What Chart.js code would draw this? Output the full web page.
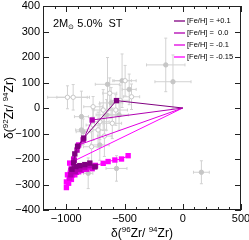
<!DOCTYPE html>
<html>
<head>
<meta charset="utf-8">
<script src="https://cdn.jsdelivr.net/npm/chart.js@4.4.0/dist/chart.umd.min.js"></script>
<style>
  html, body { margin: 0; padding: 0; background: #fff; }
</style>
</head>
<body>
<canvas id="chart" width="249" height="240"></canvas>
<script>
// axis ranges and tick labels
const xMin = -1200, xMax = 500;
const yMin = -400, yMax = 400;
const xTickValues = [-1000, -500, 0, 500];
const yTickValues = [-400, -300, -200, -100, 0, 100, 200, 300, 400];

// presolar grain measurements (grey), with 2-sigma errors
const grainX    = [-990, -941, -646, -521, -495, -460, -146, -84, 160, -627, -440, -770, -870, -683, -654, -712, -575, -547, -870, -770, -783, -712, -569, -812, -855, -727, -605, -673, -615, -538];
const grainY    = [42, 42, 93, 107, 107, 73, 169, 103, -252, 58, 44, 5, -34, -8, -27, -54, -8, -27, -86, -67, -152, -145, -237, -256, -93, -86, -60, -110, 20, 30];
const grainXErr = [170, 140, 105, 80, 95, 60, 165, 155, 68, 60, 70, 80, 60, 80, 90, 80, 100, 80, 50, 60, 70, 80, 90, 40, 60, 70, 80, 60, 100, 80];
const grainYErr = [45, 50, 105, 105, 60, 60, 105, 105, 45, 60, 50, 40, 100, 80, 60, 70, 60, 60, 60, 60, 60, 60, 50, 60, 50, 70, 60, 80, 60, 60];
const grainOpen = [1, 1, 0, 0, 1, 0, 0, 0, 0, 1, 1, 1, 0, 1, 0, 1, 1, 0, 0, 1, 1, 0, 0, 0, 0, 1, 1, 1, 0, 1];

// model tracks, 2 Msun 5.0% ST
const feP01X = [0, -569, -850, -903, -927, -937, -951, -918, -884, -841, -798, -755];
const feP01Y = [0, 29, -118, -150, -180, -215, -240, -230, -226, -222, -216, -231];
const fe00X  = [0, -778, -855, -908, -932, -951, -961, -923, -884, -841, -798, -750];
const fe00Y  = [0, -47, -125, -165, -205, -240, -262, -250, -240, -232, -226, -228];
const feM01X = [0, -894, -937, -961, -971, -947, -913, -870, -826, -778];
const feM01Y = [0, -145, -200, -245, -275, -262, -252, -245, -240, -238];
const feM015X = [0, -971, -990, -999, -999, -980, -956, -927, -894, -855, -807, -750, -683, -641, -583, -526, -469];
const feM015Y = [0, -216, -262, -290, -312, -295, -280, -262, -250, -240, -232, -225, -217, -210, -204, -200, -187];

const seriesLabels = ['[Fe/H] = +0.1', '[Fe/H] =  0.0', '[Fe/H] = -0.1', '[Fe/H] = -0.15'];
const seriesColors = ['#800080', '#b000b0', '#e000e0', '#ff00ff'];

const FONT = '"Liberation Sans", Arial, Helvetica, sans-serif';
const GREY = '#c6c6c6';

function toPoints(xs, ys) {
  return xs.map((x, i) => ({ x: x, y: ys[i] }));
}

function minusFmt(v) {
  return v < 0 ? '\u2212' + Math.abs(v) : String(v);
}

function modelDataset(label, xs, ys, color) {
  return {
    label: label,
    data: toPoints(xs, ys),
    showLine: true,
    borderColor: color,
    backgroundColor: color,
    borderWidth: 1,
    pointStyle: 'rect',
    pointRadius: ctx => ctx.dataIndex === 0 ? 0 : 3.8,
    pointBorderWidth: 0
  };
}

// draws a line of text with super/subscripts, centred on (cx, baseline cy)
function drawRich(ctx, parts, cx, cy, angle, align) {
  ctx.save();
  ctx.translate(cx, cy);
  ctx.rotate(angle || 0);
  let w = 0;
  parts.forEach(p => {
    ctx.font = p.size + 'px ' + FONT;
    p.w = ctx.measureText(p.text).width;
    w += p.w;
  });
  let x0 = align === 'left' ? 0 : -w / 2;
  ctx.fillStyle = '#000';
  ctx.textAlign = 'left';
  ctx.textBaseline = 'alphabetic';
  parts.forEach(p => {
    ctx.font = p.size + 'px ' + FONT;
    ctx.fillText(p.text, x0, p.dy || 0);
    x0 += p.w;
  });
  ctx.restore();
}

const errorBars = {
  id: 'errorBars',
  beforeDatasetsDraw(chart) {
    const { ctx, scales: { x, y } } = chart;
    ctx.save();
    ctx.strokeStyle = '#d2d2d2';
    ctx.lineWidth = 1;
    ctx.beginPath();
    for (let i = 0; i < grainX.length; i++) {
      const px = x.getPixelForValue(grainX[i]);
      const py = y.getPixelForValue(grainY[i]);
      const x1 = x.getPixelForValue(grainX[i] - grainXErr[i]);
      const x2 = x.getPixelForValue(grainX[i] + grainXErr[i]);
      const y1 = y.getPixelForValue(grainY[i] - grainYErr[i]);
      const y2 = y.getPixelForValue(grainY[i] + grainYErr[i]);
      ctx.moveTo(x1, py); ctx.lineTo(x2, py);
      ctx.moveTo(px, y1); ctx.lineTo(px, y2);
      // small end caps
      ctx.moveTo(x1, py - 1.5); ctx.lineTo(x1, py + 1.5);
      ctx.moveTo(x2, py - 1.5); ctx.lineTo(x2, py + 1.5);
      ctx.moveTo(px - 1.5, y1); ctx.lineTo(px + 1.5, y1);
      ctx.moveTo(px - 1.5, y2); ctx.lineTo(px + 1.5, y2);
    }
    ctx.stroke();
    ctx.restore();
  }
};

const frame = {
  id: 'frame',
  afterDraw(chart) {
    const { ctx, chartArea: a, scales: { x, y } } = chart;
    ctx.save();
    ctx.strokeStyle = '#222';
    ctx.lineWidth = 1;
    ctx.strokeRect(a.left + 0.5, a.top + 0.5, a.right - a.left - 1, a.bottom - a.top - 1);
    ctx.beginPath();
    for (let v = xMin; v <= xMax; v += 100) {
      const px = Math.round(x.getPixelForValue(v)) + 0.5;
      const len = v % 500 === 0 ? 6 : 3;
      ctx.moveTo(px, a.bottom); ctx.lineTo(px, a.bottom - len);
      ctx.moveTo(px, a.top); ctx.lineTo(px, a.top + len);
    }
    for (let v = yMin; v <= yMax; v += 100) {
      const py = Math.round(y.getPixelForValue(v)) + 0.5;
      ctx.moveTo(a.left, py); ctx.lineTo(a.left + 6, py);
      ctx.moveTo(a.right, py); ctx.lineTo(a.right - 6, py);
    }
    ctx.stroke();

    // legend
    ctx.lineWidth = 1.3;
    ctx.font = '7.5px ' + FONT;
    ctx.textAlign = 'left';
    ctx.textBaseline = 'middle';
    seriesLabels.forEach((lab, i) => {
      const ly = a.top + 15 + i * 12;
      ctx.strokeStyle = seriesColors[i];
      ctx.beginPath();
      ctx.moveTo(a.right - 67, ly);
      ctx.lineTo(a.right - 56, ly);
      ctx.stroke();
      ctx.fillStyle = '#000';
      ctx.fillText(lab, a.right - 54, ly);
    });
    ctx.restore();

    // model label
    drawRich(ctx, [
      { text: '2M', size: 11 },
      { text: '\u2299', size: 7, dy: 2.5 },
      { text: ' 5.0%  ST', size: 11 }
    ], a.left + 10, a.top + 20.5, 0, 'left');

    // axis titles
    drawRich(ctx, [
      { text: '\u03b4(', size: 12 },
      { text: '96', size: 8, dy: -5 },
      { text: 'Zr/ ', size: 12 },
      { text: '94', size: 8, dy: -5 },
      { text: 'Zr)', size: 12 }
    ], (a.left + a.right) / 2, 236.5, 0);
    drawRich(ctx, [
      { text: '\u03b4(', size: 12 },
      { text: '92', size: 8, dy: -5 },
      { text: 'Zr/ ', size: 12 },
      { text: '94', size: 8, dy: -5 },
      { text: 'Zr)', size: 12 }
    ], 13, (a.top + a.bottom) / 2, -Math.PI / 2);
  }
};

const ctx = document.getElementById('chart').getContext('2d');
new Chart(ctx, {
  type: 'scatter',
  data: {
    datasets: [
      modelDataset(seriesLabels[0], feP01X, feP01Y, seriesColors[0]),
      modelDataset(seriesLabels[1], fe00X, fe00Y, seriesColors[1]),
      modelDataset(seriesLabels[2], feM01X, feM01Y, seriesColors[2]),
      modelDataset(seriesLabels[3], feM015X, feM015Y, seriesColors[3]),
      {
        label: 'grains',
        data: toPoints(grainX, grainY),
        pointRadius: 2.2,
        pointBorderWidth: 1,
        pointBorderColor: GREY,
        pointBackgroundColor: c => grainOpen[c.dataIndex] ? '#fff' : GREY
      }
    ]
  },
  options: {
    responsive: false,
    animation: false,
    events: [],
    layout: { padding: { top: 6, right: 8, left: 0, bottom: 0 } },
    plugins: { legend: { display: false }, tooltip: { enabled: false } },
    scales: {
      x: {
        type: 'linear',
        min: xMin,
        max: xMax,
        grid: { display: false, drawTicks: false, tickLength: 0 },
        border: { display: false },
        ticks: { font: { size: 11, family: FONT }, color: '#000', padding: 2, maxRotation: 0, callback: minusFmt },
        afterBuildTicks: s => { s.ticks = xTickValues.map(v => ({ value: v })); },
        afterFit: s => { s.height = 30; s.paddingLeft = 0; s.paddingRight = 0; }
      },
      y: {
        type: 'linear',
        min: yMin,
        max: yMax,
        grid: { display: false, drawTicks: false, tickLength: 0 },
        border: { display: false },
        ticks: { font: { size: 11, family: FONT }, color: '#000', padding: 3, callback: minusFmt },
        afterBuildTicks: s => { s.ticks = yTickValues.map(v => ({ value: v })); },
        afterFit: s => { s.width = 43; s.paddingTop = 0; s.paddingBottom = 0; }
      }
    }
  },
  plugins: [errorBars, frame]
});
</script>
</body>
</html>
